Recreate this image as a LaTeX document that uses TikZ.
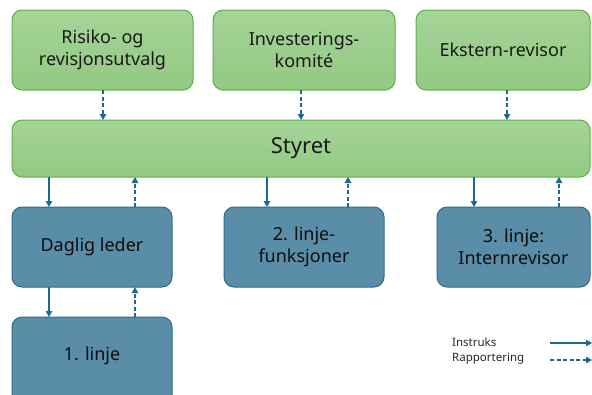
\documentclass[tikz,border=0pt]{standalone}
\usepackage{fontspec}
\setmainfont{Noto Sans}
\usetikzlibrary{arrows.meta,positioning}
\definecolor{gfill}{HTML}{A5D498}
\definecolor{gfillb}{HTML}{92C983}
\definecolor{gdraw}{HTML}{5DAF4A}
\definecolor{bfill}{HTML}{5A8DA8}
\definecolor{bdraw}{HTML}{2C6C8C}
\definecolor{arr}{HTML}{1E6890}
\begin{document}
\begin{tikzpicture}[x=1pt,y=-1pt,
  gbox/.style={draw=gdraw, line width=1pt, rounded corners=10pt, top color=gfill, bottom color=gfillb, align=center, text=black!90, font=\fontsize{18}{22}\selectfont, inner sep=0pt},
  bbox/.style={draw=bdraw, line width=1pt, rounded corners=10pt, fill=bfill, align=center, text=black!95, font=\fontsize{18}{22}\selectfont, inner sep=0pt},
  instr/.style={draw=arr, line width=1.3pt, -{Triangle[width=6.5pt,length=6pt]}},
  rapp/.style={draw=arr, line width=1.3pt, dash pattern=on 4pt off 2.5pt, -{Triangle[width=6.5pt,length=6pt]}},
  legtext/.style={font=\fontsize{11.5}{13}\selectfont, text=black!85, anchor=west, inner sep=0pt}
]
\useasboundingbox (0,0) rectangle (592,394);
% top row
\node[gbox, minimum width=181pt, minimum height=80pt] (risk) at (102.5,50) {Risiko- og\\revisjonsutvalg};
\node[gbox, minimum width=182pt, minimum height=80pt] (inv) at (304,50) {Investerings-\\komité};
\node[gbox, minimum width=174pt, minimum height=80pt] (ext) at (503,50) {Ekstern-revisor};
% board
\node[gbox, minimum width=578pt, minimum height=57pt, font=\fontsize{22}{26}\selectfont] (sty) at (301,148.5) {Styret};
% bottom row
\node[bbox, minimum width=160pt, minimum height=80pt] (dl) at (92,247) {Daglig leder};
\node[bbox, minimum width=160pt, minimum height=80pt] (l2) at (304,247) {2. linje-\\funksjoner};
\node[bbox, minimum width=153pt, minimum height=80pt] (l3) at (513.5,247) {3. linje:\\Internrevisor};
\node[bbox, minimum width=160pt, minimum height=100pt] (l1) at (92,367) {};
\node[font=\fontsize{18}{22}\selectfont, text=black!95] (l1t) at (92,356) {1. linje};
% coordinates for arrows
\coordinate (a1) at (103,90);  \coordinate (b1) at (103,120);
\coordinate (a2) at (301,90);  \coordinate (b2) at (301,120);
\coordinate (a3) at (507,90);  \coordinate (b3) at (507,120);
\draw[rapp] (a1) -- (b1);
\draw[rapp] (a2) -- (b2);
\draw[rapp] (a3) -- (b3);
\draw[instr] (49,177) -- (49,207);
\draw[rapp] (135,207) -- (135,177);
\draw[instr] (267,177) -- (267,207);
\draw[rapp] (348,207) -- (348,177);
\draw[instr] (474,177) -- (474,207);
\draw[rapp] (559,207) -- (559,177);
\draw[instr] (49,287) -- (49,317);
\draw[rapp] (135,317) -- (135,287);
% legend
\node[legtext] (li) at (452,342) {Instruks};
\node[legtext] (lr) at (452,359) {Rapportering};
\coordinate (i1) at (550,343); \coordinate (i2) at (592,343);
\coordinate (r1) at (550,360); \coordinate (r2) at (592,360);
\draw[instr] (i1) -- (i2);
\draw[rapp] (r1) -- (r2);
\end{tikzpicture}
\end{document}
